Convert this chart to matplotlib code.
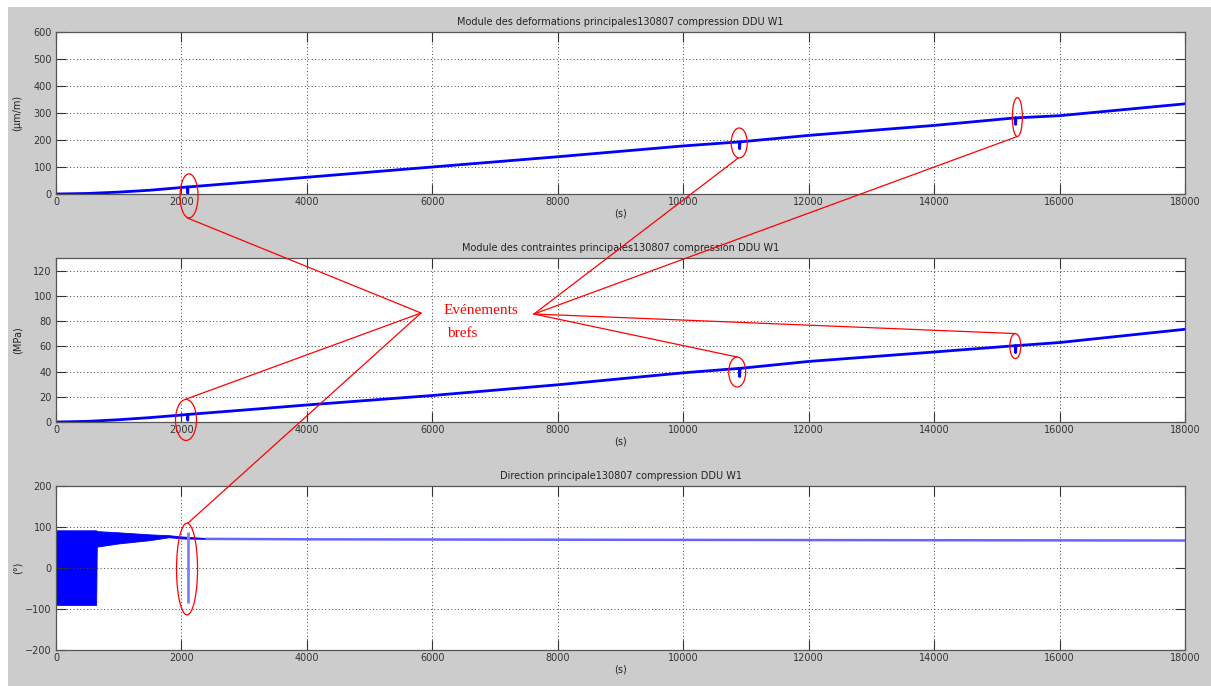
import matplotlib
matplotlib.use("Agg")
import matplotlib.pyplot as plt
from matplotlib.patches import Ellipse, Rectangle, ConnectionPatch

# ---------------- data ----------------
strain_t = [0, 500, 1000, 1500, 2000, 2095, 2100, 2105, 3000, 4000, 6000, 8000,
            10000, 10895, 10900, 10905, 12000, 14000, 15295, 15300, 15305, 16000, 18000]
strain_v = [0, 2, 7, 14, 24, 26, 3, 26, 43, 62, 100, 138,
            178, 193, 168, 193, 217, 254, 282, 258, 282, 290, 334]

stress_t = [0, 500, 1000, 1500, 2000, 2095, 2100, 2105, 3000, 4000, 6000, 8000,
            10000, 10895, 10900, 10905, 12000, 14000, 15295, 15300, 15305, 16000, 18000]
stress_v = [0, 0.5, 1.8, 3.5, 5.5, 6.0, 1.5, 6.0, 9.5, 13.5, 21, 29.5,
            39, 42.5, 36, 42.5, 48, 55.5, 60.5, 55, 60.5, 63, 73.5]

# direction: oscillation envelope (upper / lower) then steady value
band_t = [0, 640, 650, 1000, 1500, 1800, 2000, 2400]
band_hi = [92, 92, 90, 87, 82, 80, 77, 73]
band_lo = [-90, -90, 52, 60, 68, 75, 72, 71]
dir_t = [2400, 4000, 8000, 12700, 18000]
dir_v = [71, 70, 69, 68, 67]
spike_t = 2100
spike_lo, spike_hi = -85, 88

titles = ["Module des deformations principales130807 compression DDU W1",
          "Module des contraintes principales130807 compression DDU W1",
          "Direction principale130807 compression DDU W1"]
ylabels = ["(\u00b5m/m)", "(MPa)", "(\u00b0)"]
xticks = [0, 2000, 4000, 6000, 8000, 10000, 12000, 14000, 16000, 18000]
yticks = [[0, 100, 200, 300, 400, 500, 600],
          [0, 20, 40, 60, 80, 100, 120],
          [-200, -100, 0, 100, 200]]
ylims = [(0, 600), (0, 130), (-200, 200)]

# annotation: events (ellipses) per axes: (t, y, width, height)
ell_top = [(2121, -7, 287, 163), (10893, 189, 255, 111), (15327, 285, 160, 144)]
ell_mid = [(2073, 1.6, 335, 32.5), (10861, 39.6, 271, 23.8), (15295, 60.2, 175, 19.8)]
ell_bot = [(2089, -2.4, 335, 224)]
hub_left = (5820, 86.4)
hub_right = (7620, 85.6)

# ---------------- figure ----------------
W, H = 1211, 686
fig = plt.figure(figsize=(W / 100, H / 100), dpi=100)
fig.patch.set_facecolor("white")
fig.add_artist(Rectangle((8 / W, 0), 1, 1 - 7 / H, transform=fig.transFigure,
                         facecolor="#cccccc", edgecolor="none", zorder=-10))

left = 56 / W
width = (1185 - 56) / W
boxes = [(194, 162), (422, 164), (650, 164)]
axes = []
for i, (bot, hgt) in enumerate(boxes):
    ax = fig.add_axes([left, 1 - bot / H, width, hgt / H])
    ax.set_facecolor("white")
    ax.set_xlim(0, 18000)
    ax.set_ylim(*ylims[i])
    ax.set_xticks(xticks)
    ax.set_yticks(yticks[i])
    ax.tick_params(direction="in", length=7, width=0.8, colors="#333333",
                   labelsize=7, top=True, right=True, pad=2)
    ax.tick_params(axis="y", pad=3)
    ax.grid(True, color="#444444", linestyle=(0, (1, 2.5)), linewidth=0.7)
    for s in ax.spines.values():
        s.set_color("#555555")
        s.set_linewidth(0.9)
    ax.set_title(titles[i], fontsize=7, pad=5, color="#222222")
    ax.set_xlabel("(s)", fontsize=7, labelpad=1, color="#222222")
    ax.set_ylabel(ylabels[i], fontsize=7, color="#222222")
    ax.yaxis.set_label_coords(-0.030, 0.5)
    axes.append(ax)

ax1, ax2, ax3 = axes
ax1.plot(strain_t, strain_v, color="#0000ff", linewidth=2.0)
ax2.plot(stress_t, stress_v, color="#0000ff", linewidth=2.0)
ax3.fill_between(band_t, band_lo, band_hi, color="#0000ff", linewidth=0.6)
ax3.plot(dir_t, dir_v, color="#6666ff", linewidth=1.8)
ax3.vlines(spike_t, spike_lo, spike_hi, color="#8080ff", linewidth=2)

# ---------------- red annotations ----------------
for ax, ells in ((ax1, ell_top), (ax2, ell_mid), (ax3, ell_bot)):
    for (t, y, w, h) in ells:
        ax.add_patch(Ellipse((t, y), w, h, fill=False, edgecolor="red",
                             linewidth=0.9, clip_on=False, zorder=5))

links = [
    (hub_left, ax1, (ell_top[0][0] - 30, ell_top[0][1] - ell_top[0][3] / 2)),
    (hub_left, ax2, (ell_mid[0][0] - 15, ell_mid[0][1] + ell_mid[0][3] / 2)),
    (hub_left, ax3, (ell_bot[0][0] + 15, ell_bot[0][1] + ell_bot[0][3] / 2)),
    (hub_right, ax1, (ell_top[1][0] - 15, ell_top[1][1] - ell_top[1][3] / 2)),
    (hub_right, ax1, (ell_top[2][0], ell_top[2][1] - ell_top[2][3] / 2)),
    (hub_right, ax2, (ell_mid[1][0], ell_mid[1][1] + ell_mid[1][3] / 2)),
    (hub_right, ax2, (ell_mid[2][0], ell_mid[2][1] + ell_mid[2][3] / 2)),
]
for hub, axB, pt in links:
    cp = ConnectionPatch(xyA=hub, coordsA=ax2.transData, xyB=pt,
                         coordsB=axB.transData, color="red", linewidth=0.9,
                         zorder=6)
    fig.add_artist(cp)

ax2.text(6172, 88, "Ev\u00e9nements", color="red", fontsize=11,
         family=["Liberation Serif", "DejaVu Serif"], va="center", ha="left",
         zorder=7)
ax2.text(6236, 69.8, "brefs", color="red", fontsize=11,
         family=["Liberation Serif", "DejaVu Serif"], va="center", ha="left",
         zorder=7)

fig.savefig("out.png", dpi=100, facecolor=fig.get_facecolor())
